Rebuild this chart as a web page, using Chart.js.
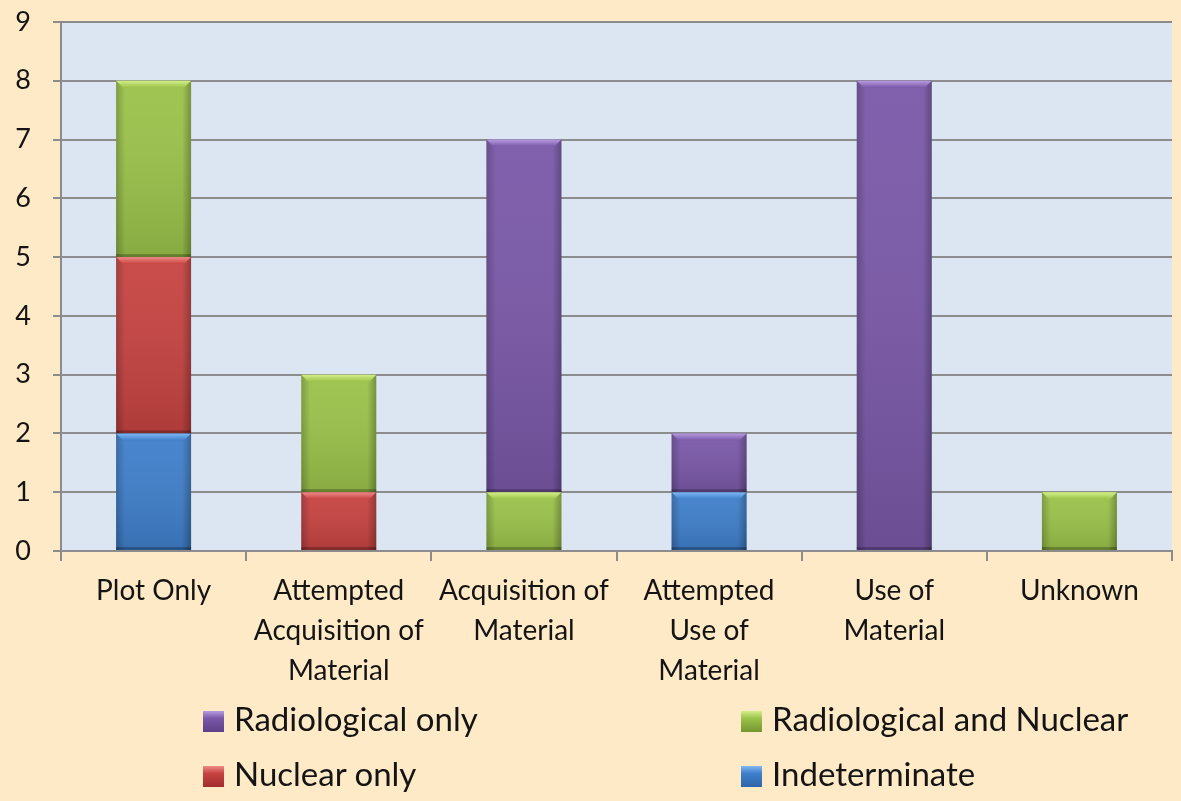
<!DOCTYPE html>
<html>
<head>
<meta charset="utf-8">
<script src="https://cdn.jsdelivr.net/npm/chart.js@4.4.1/dist/chart.umd.min.js"></script>
<style>
    html, body { margin: 0; padding: 0; background: #FEEAC6; }
    #wrap { position: relative; width: 1181px; height: 801px; }
    #chart { position: absolute; left: 0; top: 0; }
    .legend-item { position: absolute; font-family: Lato, "Open Sans", sans-serif; font-size: 33px; color: #141414; line-height: 38px; white-space: nowrap; }
    .legend-box { display: inline-block; width: 21px; height: 21px; margin-right: 10px; vertical-align: -1px; }
</style>
</head>
<body>
<div id="wrap">
    <canvas id="chart" width="1181" height="801"></canvas>
    <div id="legend"></div>
</div>
<script>
// categories and series (stack order bottom -> top)
const categories = [
    "Plot Only",
    ["Attempted", "Acquisition of", "Material"],
    ["Acquisition of", "Material"],
    ["Attempted", "Use of", "Material"],
    ["Use of", "Material"],
    "Unknown"
];
const indeterminate = [2, 0, 0, 1, 0, 0];
const nuclearOnly = [3, 1, 0, 0, 0, 0];
const radAndNuclear = [3, 2, 1, 0, 0, 1];
const radiologicalOnly = [0, 0, 6, 1, 8, 0];
const yTicks = [0, 1, 2, 3, 4, 5, 6, 7, 8, 9];

const colors = {
    blue: ["#2F65A8", "#3F7FCB", "#7FB8F2"],
    red: ["#A12F2E", "#C64341", "#F08A88"],
    green: ["#76962F", "#9BC24A", "#D4EF8A"],
    purple: ["#5E3F87", "#7A58A8", "#B79BE0"]
};

// fill the plot area light blue
const plotBg = {
    id: "plotBg",
    beforeDraw(chart) {
        const a = chart.chartArea;
        const ctx = chart.ctx;
        ctx.save();
        ctx.fillStyle = "#DCE6F2";
        ctx.fillRect(a.left, a.top, a.right - a.left, a.bottom - a.top);
        ctx.restore();
    }
};

// bevel look on each bar segment
const bevel = {
    id: "bevel",
    afterDatasetsDraw(chart) {
        const ctx = chart.ctx;
        chart.data.datasets.forEach((ds, i) => {
            const meta = chart.getDatasetMeta(i);
            const pal = ds.palette;
            meta.data.forEach((bar, j) => {
                if (!ds.data[j]) return;
                const l = bar.x - bar.width / 2, r = bar.x + bar.width / 2;
                const t = bar.y, b = bar.base;
                const h = b - t;
                ctx.save();
                // side shading
                const g = ctx.createLinearGradient(l, 0, r, 0);
                g.addColorStop(0, "rgba(0,0,0,0.22)");
                g.addColorStop(0.12, "rgba(0,0,0,0)");
                g.addColorStop(0.88, "rgba(0,0,0,0)");
                g.addColorStop(1, "rgba(0,0,0,0.28)");
                ctx.fillStyle = g;
                ctx.fillRect(l, t, r - l, h);
                // vertical shading
                const gv = ctx.createLinearGradient(0, t, 0, b);
                gv.addColorStop(0, "rgba(255,255,255,0.05)");
                gv.addColorStop(1, "rgba(0,0,0,0.12)");
                ctx.fillStyle = gv;
                ctx.fillRect(l, t, r - l, h);
                // top highlight trapezoid
                const bw = 7;
                const gt = ctx.createLinearGradient(0, t, 0, t + bw);
                gt.addColorStop(0, pal[2]);
                gt.addColorStop(1, pal[1]);
                ctx.beginPath();
                ctx.moveTo(l, t);
                ctx.lineTo(r, t);
                ctx.lineTo(r - bw, t + bw);
                ctx.lineTo(l + bw, t + bw);
                ctx.closePath();
                ctx.fillStyle = gt;
                ctx.fill();
                // bottom dark edge
                ctx.fillStyle = "rgba(0,0,0,0.25)";
                ctx.fillRect(l, b - 3, r - l, 3);
                ctx.restore();
            });
        });
    }
};

const datasets = [
    { label: "Indeterminate", data: indeterminate, backgroundColor: colors.blue[1], palette: colors.blue },
    { label: "Nuclear only", data: nuclearOnly, backgroundColor: colors.red[1], palette: colors.red },
    { label: "Radiological and Nuclear", data: radAndNuclear, backgroundColor: colors.green[1], palette: colors.green },
    { label: "Radiological only", data: radiologicalOnly, backgroundColor: colors.purple[1], palette: colors.purple }
];

const fontFamily = "Lato, 'Open Sans', sans-serif";

const chart = new Chart(document.getElementById("chart").getContext("2d"), {
    type: "bar",
    data: { labels: categories, datasets: datasets },
    options: {
        responsive: false,
        animation: false,
        layout: { padding: { left: 0, right: 9, top: 22, bottom: 0 } },
        datasets: { bar: { categoryPercentage: 1, barPercentage: 0.405 } },
        plugins: { legend: { display: false }, tooltip: { enabled: false } },
        scales: {
            x: {
                stacked: true,
                grid: { drawOnChartArea: false, drawTicks: true, tickLength: 10, color: "#8C8C8C", lineWidth: 2 },
                border: { color: "#8C8C8C", width: 2 },
                ticks: { font: { family: fontFamily, size: 28, lineHeight: 1.43 }, color: "#141414", maxRotation: 0, autoSkip: false, padding: 10 },
                afterFit(scale) { scale.height = 250; scale.paddingLeft = 0; scale.paddingRight = 0; }
            },
            y: {
                stacked: true,
                min: 0,
                max: 9,
                afterBuildTicks(scale) { scale.ticks = yTicks.map(v => ({ value: v })); },
                grid: { color: "#8C8C8C", lineWidth: 2, tickLength: 8 },
                border: { color: "#8C8C8C", width: 2 },
                ticks: { font: { family: fontFamily, size: 27 }, color: "#141414", padding: 22 },
                afterFit(scale) { scale.width = 61; scale.paddingTop = 0; scale.paddingBottom = 0; }
            }
        }
    },
    plugins: [plotBg, bevel]
});

// legend in two columns, top series first
const legendPos = [
    { label: "Radiological only", left: 203, top: 699 },
    { label: "Radiological and Nuclear", left: 741, top: 699 },
    { label: "Nuclear only", left: 203, top: 754 },
    { label: "Indeterminate", left: 741, top: 754 }
];
const legendEl = document.getElementById("legend");
legendPos.forEach(p => {
    const ds = datasets.find(d => d.label === p.label);
    const item = document.createElement("div");
    item.className = "legend-item";
    item.style.left = p.left + "px";
    item.style.top = p.top + "px";
    const box = document.createElement("span");
    box.className = "legend-box";
    box.style.background = "linear-gradient(to bottom, " + ds.palette[2] + " 0%, " + ds.palette[1] + " 35%, " + ds.palette[0] + " 100%)";
    item.appendChild(box);
    item.appendChild(document.createTextNode(p.label));
    legendEl.appendChild(item);
});
</script>
</body>
</html>
